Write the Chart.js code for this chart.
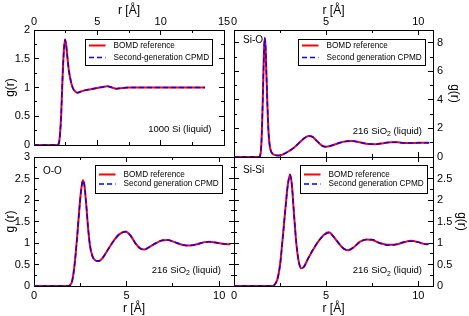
<!DOCTYPE html>
<html>
<head>
<meta charset="utf-8">
<script src="https://cdn.jsdelivr.net/npm/chart.js@4.4.0/dist/chart.umd.min.js"></script>
<style>
    html, body { margin: 0; padding: 0; background: #fff; }
    #wrap { position: relative; width: 469px; height: 316px; }
    #wrap canvas { position: absolute; left: 0; top: 0; }
</style>
</head>
<body>
<div id="wrap">
    <canvas id="panel-si" width="469" height="316"></canvas>
    <canvas id="panel-sio" width="469" height="316"></canvas>
    <canvas id="panel-oo" width="469" height="316"></canvas>
    <canvas id="panel-sisi" width="469" height="316"></canvas>
</div>
<script>
// ==================================================
//      g(r) data
// ==================================================

// --- 1000 Si (liquid) ---
const rSi      = [0, 1.8, 1.95, 2.05, 2.15, 2.25, 2.35, 2.45, 2.55, 2.65, 2.75, 2.9, 3.05, 3.25, 3.45, 3.7, 4.0, 4.5, 5.0, 5.45, 5.8, 6.15, 6.5, 7.0, 7.5, 8.0, 9.0, 10.0, 11.0, 12.0, 13.5];
const gSiBomd  = [0, 0, 0.02, 0.18, 0.55, 1.15, 1.62, 1.84, 1.72, 1.5, 1.3, 1.12, 1.0, 0.93, 0.91, 0.93, 0.95, 0.97, 0.99, 1.01, 1.02, 1.0, 0.98, 0.99, 1.0, 1.0, 1.0, 1.0, 1.0, 1.0, 1.0];
const gSiCpmd  = [0, 0, 0.02, 0.17, 0.54, 1.14, 1.61, 1.83, 1.72, 1.5, 1.3, 1.12, 1.0, 0.93, 0.91, 0.93, 0.95, 0.97, 0.99, 1.01, 1.02, 1.0, 0.98, 0.99, 1.0, 1.0, 1.0, 1.0, 1.0, 1.0, 1.0];

// --- 216 SiO2, Si-O ---
const rSiO     = [0, 1.35, 1.42, 1.48, 1.53, 1.58, 1.63, 1.67, 1.71, 1.76, 1.82, 1.88, 1.95, 2.05, 2.2, 2.4, 2.6, 2.9, 3.2, 3.5, 3.8, 4.05, 4.25, 4.5, 4.75, 5.0, 5.3, 5.7, 6.1, 6.4, 6.8, 7.3, 7.7, 8.1, 8.5, 8.9, 9.3, 9.8, 10.2, 10.6];
const gSiOBomd = [0, 0, 0.1, 0.8, 2.5, 5.0, 7.5, 8.35, 7.8, 5.8, 3.4, 1.6, 0.7, 0.3, 0.15, 0.1, 0.15, 0.35, 0.6, 0.95, 1.3, 1.48, 1.42, 1.12, 0.82, 0.72, 0.8, 0.98, 1.1, 1.12, 1.04, 0.91, 0.9, 0.97, 1.04, 1.03, 0.98, 0.98, 1.0, 1.0];
const gSiOCpmd = [0, 0, 0.1, 0.78, 2.45, 4.95, 7.45, 8.33, 7.8, 5.82, 3.42, 1.6, 0.7, 0.3, 0.15, 0.1, 0.15, 0.35, 0.6, 0.95, 1.3, 1.47, 1.42, 1.12, 0.82, 0.72, 0.8, 0.98, 1.1, 1.12, 1.04, 0.91, 0.9, 0.97, 1.04, 1.03, 0.98, 0.98, 1.0, 1.0];

// --- 216 SiO2, O-O ---
const rOO      = [0, 1.8, 1.95, 2.05, 2.15, 2.25, 2.35, 2.45, 2.55, 2.64, 2.72, 2.82, 2.92, 3.02, 3.15, 3.3, 3.5, 3.7, 4.0, 4.3, 4.6, 4.95, 5.2, 5.5, 5.75, 5.95, 6.2, 6.6, 6.9, 7.2, 7.6, 8.0, 8.4, 8.8, 9.2, 9.5, 9.8, 10.2, 10.6];
const gOOBomd  = [0, 0, 0.02, 0.1, 0.35, 0.75, 1.25, 1.8, 2.25, 2.46, 2.35, 1.9, 1.35, 0.95, 0.7, 0.6, 0.58, 0.65, 0.85, 1.05, 1.2, 1.27, 1.18, 0.98, 0.87, 0.85, 0.9, 1.0, 1.06, 1.07, 1.02, 0.96, 0.94, 0.97, 1.02, 1.03, 1.01, 0.98, 0.97];
const gOOCpmd  = [0, 0, 0.02, 0.1, 0.34, 0.74, 1.24, 1.79, 2.24, 2.45, 2.35, 1.9, 1.36, 0.95, 0.7, 0.6, 0.58, 0.65, 0.85, 1.05, 1.2, 1.26, 1.18, 0.98, 0.87, 0.85, 0.9, 1.0, 1.06, 1.07, 1.02, 0.96, 0.94, 0.97, 1.02, 1.03, 1.01, 0.98, 0.97];

// --- 216 SiO2, Si-Si ---
const rSiSi     = [0, 2.1, 2.2, 2.35, 2.5, 2.65, 2.8, 2.92, 3.04, 3.14, 3.25, 3.38, 3.5, 3.64, 3.8, 4.0, 4.3, 4.6, 4.9, 5.15, 5.4, 5.7, 5.95, 6.2, 6.5, 6.8, 7.2, 7.5, 7.9, 8.3, 8.7, 9.1, 9.6, 10.0, 10.3, 10.55];
const gSiSiBomd = [0, 0, 0.03, 0.15, 0.5, 1.15, 1.85, 2.35, 2.6, 2.35, 1.7, 1.0, 0.6, 0.41, 0.45, 0.62, 0.85, 1.05, 1.2, 1.25, 1.15, 0.98, 0.87, 0.83, 0.9, 1.02, 1.08, 1.07, 1.0, 0.96, 0.96, 1.0, 1.05, 1.02, 0.98, 0.97];
const gSiSiCpmd = [0, 0, 0.03, 0.15, 0.49, 1.13, 1.84, 2.34, 2.58, 2.36, 1.72, 1.02, 0.6, 0.42, 0.45, 0.62, 0.86, 1.05, 1.19, 1.24, 1.15, 0.99, 0.87, 0.84, 0.9, 1.01, 1.08, 1.08, 1.0, 0.95, 0.96, 1.01, 1.04, 1.02, 0.98, 0.97];

const FONT = "'Liberation Sans', Arial, Helvetica, sans-serif";
const INK = '#000';

// --------------------------------------------------
// Helpers
// --------------------------------------------------
function toPoints(r, g) {
    return r.map((x, i) => ({ x: x, y: g[i] }));
}

// Axis that carries labels and title (no ticks of its own)
function labelAxis(axis, position, max, step, size, title, titlePad, labelPad, hidden) {
    return {
        type: 'linear', axis: axis, position: position, min: 0, max: max, weight: 1,
        ticks: {
            stepSize: step, includeBounds: false, autoSkip: false, maxRotation: 0,
            padding: labelPad, color: INK, font: { family: FONT, size: 11 },
            callback: v => (hidden.includes(v) ? '' : String(v))
        },
        grid: { display: false, drawTicks: false },
        border: { display: false },
        title: {
            display: true, text: title, color: INK,
            font: { family: FONT, size: 12 },
            padding: { top: titlePad, bottom: titlePad }
        },
        afterFit: s => { if (s.isHorizontal()) s.height = size; else s.width = size; }
    };
}

// Zero-size axis: frame line plus inward tick marks
function tickAxis(axis, position, max, step, len) {
    return {
        type: 'linear', axis: axis, position: position, min: 0, max: max, weight: 0,
        ticks: { display: false, stepSize: step, includeBounds: false },
        grid: { drawOnChartArea: false, drawTicks: true, tickLength: -len, color: INK, lineWidth: 1 },
        border: { display: true, color: INK, width: 1 },
        afterFit: s => { if (s.isHorizontal()) s.height = 0; else s.width = 0; }
    };
}

function drawNote(ctx, n, x, y) {
    const size = n.size || 9.5;
    const subSize = size * 0.72;
    ctx.font = `${size}px ${FONT}`;
    const w1 = ctx.measureText(n.text).width;
    const w3 = n.tail ? ctx.measureText(n.tail).width : 0;
    ctx.font = `${subSize}px ${FONT}`;
    const w2 = n.sub ? ctx.measureText(n.sub).width : 0;
    let cx = n.anchor[1] === 'r' ? x - (w1 + w2 + w3) : x;

    ctx.fillStyle = INK;
    ctx.textAlign = 'left';
    ctx.textBaseline = 'middle';
    ctx.font = `${size}px ${FONT}`;
    ctx.fillText(n.text, cx, y);
    cx += w1;
    if (n.sub) {
        ctx.font = `${subSize}px ${FONT}`;
        ctx.fillText(n.sub, cx, y + size * 0.32);
        cx += w2;
    }
    if (n.tail) {
        ctx.font = `${size}px ${FONT}`;
        ctx.fillText(n.tail, cx, y);
    }
}

// Legend box + free text inside the plot frame
const panelDecor = {
    id: 'panelDecor',
    afterDatasetsDraw(chart, args, opts) {
        const { ctx, chartArea: a } = chart;
        ctx.save();

        (opts.notes || []).forEach(n => {
            const x = n.anchor[1] === 'r' ? a.right - n.dx : a.left + n.dx;
            const y = n.anchor[0] === 'b' ? a.bottom - n.dy : a.top + n.dy;
            drawNote(ctx, n, x, y);
        });

        const L = opts.legend;
        if (L) {
            const items = chart.data.datasets;
            ctx.font = `${L.size}px ${FONT}`;
            const textW = Math.max(...items.map(d => ctx.measureText(d.label).width));
            const w = L.pad + L.sample + L.gap + textW + L.pad;
            const bx = Math.round(a.right - L.right - w) + 0.5;
            const by = Math.round(a.top + L.top) + 0.5;
            ctx.fillStyle = '#fff';
            ctx.fillRect(bx, by, w, L.height);
            ctx.strokeStyle = INK;
            ctx.lineWidth = 1;
            ctx.strokeRect(bx, by, Math.round(w), Math.round(L.height));

            items.forEach((d, i) => {
                const y = by + L.first + i * L.step;
                ctx.beginPath();
                ctx.setLineDash(d.borderDash || []);
                ctx.strokeStyle = d.borderColor;
                ctx.lineWidth = d.borderWidth;
                ctx.moveTo(bx + L.pad, y);
                ctx.lineTo(bx + L.pad + L.sample, y);
                ctx.stroke();
                ctx.setLineDash([]);
                ctx.fillStyle = INK;
                ctx.textAlign = 'left';
                ctx.textBaseline = 'middle';
                ctx.fillText(d.label, bx + L.pad + L.sample + L.gap, y);
            });
        }
        ctx.restore();
    }
};

function makePanel(id, p) {
    const ctx = document.getElementById(id).getContext('2d');
    const scales = {
        x: labelAxis('x', p.xPos, p.xMax, p.xStep, p.xSize, p.xTitle, p.xTitlePad, p.xLabelPad, []),
        y: labelAxis('y', p.yPos, p.yMax, p.yStep, p.ySize, p.yTitle, p.yTitlePad, p.yLabelPad, p.yHide || []),
        xTopMajor: tickAxis('x', 'top', p.xMax, p.xStep, 5),
        xTopMinor: tickAxis('x', 'top', p.xMax, p.xMinor, 3),
        xBotMajor: tickAxis('x', 'bottom', p.xMax, p.xStep, 5),
        xBotMinor: tickAxis('x', 'bottom', p.xMax, p.xMinor, 3),
        yLeftMajor: tickAxis('y', 'left', p.yMax, p.yStep, 5),
        yLeftMinor: tickAxis('y', 'left', p.yMax, p.yMinor, 3),
        yRightMajor: tickAxis('y', 'right', p.yMax, p.yStep, 5),
        yRightMinor: tickAxis('y', 'right', p.yMax, p.yMinor, 3)
    };

    return new Chart(ctx, {
        type: 'line',
        data: {
            datasets: [{
                label: 'BOMD reference',
                data: toPoints(p.r, p.gRef),
                borderColor: '#ff0000',
                borderWidth: 2,
                order: 2
            }, {
                label: p.cpmdLabel,
                data: toPoints(p.r, p.gCpmd),
                borderColor: '#0000ff',
                borderWidth: 1.5,
                borderDash: [5, 3],
                order: 1
            }]
        },
        options: {
            responsive: false,
            animation: false,
            devicePixelRatio: 1,
            events: [],
            layout: { padding: p.padding },
            elements: {
                point: { radius: 0 },
                line: { cubicInterpolationMode: 'monotone', fill: false }
            },
            scales: scales,
            plugins: {
                legend: { display: false },
                tooltip: { enabled: false },
                panelDecor: {
                    notes: p.notes,
                    legend: Object.assign({ size: 8.2, pad: 3.5, sample: 16.5, gap: 8 }, p.legend)
                }
            }
        },
        plugins: [panelDecor]
    });
}

// --------------------------------------------------
// The four panels
// --------------------------------------------------
makePanel('panel-si', {
    r: rSi, gRef: gSiBomd, gCpmd: gSiCpmd, cpmdLabel: 'Second-generation CPMD',
    padding: { left: 0, top: 0, right: 245, bottom: 171 },
    xPos: 'top', xMax: 15, xStep: 5, xMinor: 2.5, xSize: 30, xTitle: 'r [Å]', xTitlePad: 3, xLabelPad: 1,
    yPos: 'left', yMax: 2, yStep: 0.5, yMinor: 0.25, ySize: 34, yTitle: 'g(r)', yTitlePad: 3, yLabelPad: 4,
    legend: { right: 12.3, top: 9.3, height: 25.7, first: 6, step: 12 },
    notes: [{ text: '1000 Si (liquid)', anchor: 'br', dx: 12.5, dy: 15.5 }]
});

makePanel('panel-sio', {
    r: rSiO, gRef: gSiOBomd, gCpmd: gSiOCpmd, cpmdLabel: 'Second generation CPMD',
    padding: { left: 234, top: 0, right: 0, bottom: 159 },
    xPos: 'top', xMax: 10.8, xStep: 5, xMinor: 2.5, xSize: 30, xTitle: 'r [Å]', xTitlePad: 3, xLabelPad: 1,
    yPos: 'right', yMax: 8.9, yStep: 2, yMinor: 1, ySize: 36, yTitle: 'g(r)', yTitlePad: 7, yLabelPad: 4,
    legend: { right: 8, top: 9.3, height: 25.7, first: 6, step: 12 },
    notes: [
        { text: '216 SiO', sub: '2', tail: ' (liquid)', anchor: 'br', dx: 11, dy: 26 },
        { text: 'Si-O', anchor: 'tl', dx: 9, dy: 10.7, size: 10 }
    ]
});

makePanel('panel-oo', {
    r: rOO, gRef: gOOBomd, gCpmd: gOOCpmd, cpmdLabel: 'Second generation CPMD',
    padding: { left: 0, top: 157, right: 235, bottom: 0 },
    xPos: 'bottom', xMax: 10.8, xStep: 5, xMinor: 2.5, xSize: 30, xTitle: 'r [Å]', xTitlePad: 0.5, xLabelPad: 3,
    yPos: 'left', yMax: 3, yStep: 0.5, yMinor: 0.25, ySize: 34, yTitle: 'g (r)', yTitlePad: 3, yLabelPad: 4,
    legend: { right: 12.3, top: 8, height: 27.7, first: 9, step: 9.5 },
    notes: [
        { text: '216 SiO', sub: '2', tail: ' (liquid)', anchor: 'br', dx: 13, dy: 16 },
        { text: 'O-O', anchor: 'tl', dx: 9, dy: 14.7, size: 10 }
    ]
});

makePanel('panel-sisi', {
    r: rSiSi, gRef: gSiSiBomd, gCpmd: gSiSiCpmd, cpmdLabel: 'Second generation CPMD',
    padding: { left: 234, top: 157, right: 0, bottom: 0 },
    xPos: 'bottom', xMax: 10.8, xStep: 5, xMinor: 2.5, xSize: 30, xTitle: 'r [Å]', xTitlePad: 0.5, xLabelPad: 3,
    yPos: 'right', yMax: 3, yStep: 0.5, yMinor: 0.25, ySize: 36, yTitle: 'g(r)', yTitlePad: 0, yLabelPad: 4, yHide: [3],
    legend: { right: 6.3, top: 8, height: 27.7, first: 9, step: 9.5 },
    notes: [
        { text: '216 SiO', sub: '2', tail: ' (liquid)', anchor: 'br', dx: 11, dy: 15.3 },
        { text: 'Si-Si', anchor: 'tl', dx: 9, dy: 13, size: 10 }
    ]
});
</script>
</body>
</html>
